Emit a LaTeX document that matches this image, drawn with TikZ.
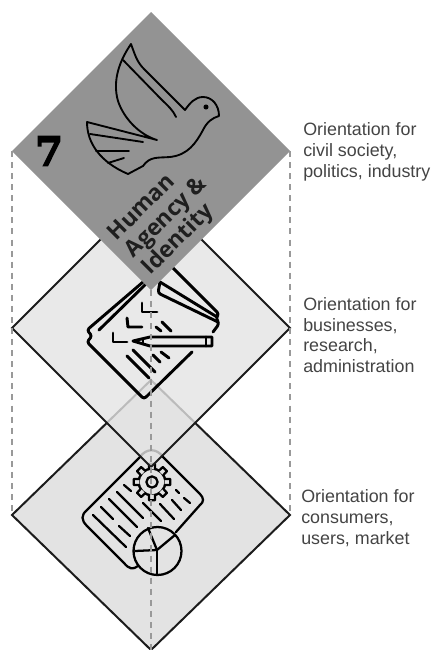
\documentclass[tikz,border=0pt]{standalone}
\usepackage{fontspec}
\setmainfont{Liberation Sans}
\newfontfamily\titlefont{Open Sans}
\newfontfamily\numfont[FakeBold=3.5]{DejaVu Serif}
\usetikzlibrary{positioning, calc, shapes.geometric}
\definecolor{topgrey}{HTML}{939393}
\definecolor{palegrey}{HTML}{E3E3E3}
\definecolor{edgegrey}{HTML}{1C1C1C}
\definecolor{dashgrey}{HTML}{999999}
\definecolor{labelgrey}{HTML}{444444}

\begin{document}
\begin{tikzpicture}[
    x=0.75pt, y=-0.75pt,
    layernode/.style={diamond, aspect=1, inner sep=0pt, outer sep=0pt, minimum width=208.5pt, minimum height=208.5pt},
    iconline/.style={line width=2.2pt, line cap=round, line join=round, black},
    thinicon/.style={line width=1.7pt, line cap=round, line join=round, black},
    doveline/.style={line width=1.4pt, line cap=round, line join=round, black},
    dashline/.style={line width=0.9pt, dashgrey, dash pattern=on 4.5pt off 3.8pt},
    orient/.style={anchor=west, align=left, labelgrey, inner sep=0pt, font=\fontsize{13.4}{15.5}\selectfont},
]
\useasboundingbox (0,0) rectangle (433,650);
\node[layernode, minimum height=202.5pt, fill=palegrey, draw=edgegrey, line width=1.5pt](consumer) at (151,515){};

\draw[thinicon] (140,457) -- (87,510) .. controls (81,515) and (81,520) .. (87,526) -- (124,563) .. controls (129,569) and (133,570) .. (138,566);
\draw[thinicon] (140,457) .. controls (146,448) and (157,448) .. (163,457) -- (200,494) .. controls (204,498) and (204,502) .. (200,505) -- (176,532);
\draw[thinicon] (124,485) -- (131,491);
\draw[thinicon] (117,492) -- (143,518);
\draw[thinicon] (109,499) -- (137,527);
\draw[thinicon] (101,507) -- (113,519);
\draw[thinicon] (119,526) -- (130,536);
\draw[thinicon] (93,515) -- (126,547);
\draw[thinicon] (143,503) -- (161,521);
\draw[thinicon] (160,504) -- (174,519);
\draw[thinicon] (172,500) -- (181,510);
\draw[thinicon] (176,490) -- (179,493);
\draw[thinicon] (184,498) -- (190,503);
\begin{scope}[shift={(152,482)}]
\draw[thinicon, fill=palegrey] (0,0) circle (10pt);
\foreach \a in {0,45,...,315}{
  \draw[thinicon, fill=palegrey] (\a-14:13) -- (\a-9:18.5) -- (\a+9:18.5) -- (\a+14:13);
}
\draw[thinicon] (0,0) circle (4.2pt);
\end{scope}
\draw[thinicon, fill=palegrey] (157.5,551) circle (18pt);
\draw[thinicon] (157,550) -- (135,551);
\draw[thinicon] (157,550) -- (157,574);
\draw[thinicon] (157,550) -- (175,535);
\draw[thinicon] (157,550) -- (148,528);

\node[layernode, fill=palegrey, fill opacity=0.8, draw=edgegrey, draw opacity=1, line width=1.5pt](business) at (151,328){};

\draw[iconline, rounded corners=2pt] (143,282) -- (87,330) -- (92,336) -- (87,342) -- (144,399) -- (192,352);
\draw[iconline] (150,280) -- (99,330);
\draw[iconline, rounded corners=2pt] (173,268) -- (219,314) -- (216,317) -- (219,324) -- (213,332);
\draw[iconline, rounded corners=2pt] (160,282) -- (158,293) -- (218,322);
\draw[iconline] (160,282) -- (217,317);
\draw[iconline] (142,303) -- (142,312) -- (157,312);
\draw[iconline] (127,318) -- (128,327) -- (142,327);
\draw[iconline] (113,333) -- (113,342) -- (127,342);
\draw[iconline] (133,341) -- (150,337) -- (212,337) -- (212,346) -- (150,346) -- cycle;
\draw[iconline] (143,339) -- (143,344);
\draw[iconline] (206,337) -- (206,346);
\draw[iconline] (162,322) -- (171,331);
\draw[iconline] (156,327) -- (161,331);
\draw[iconline] (127,356) -- (149,378);
\draw[iconline] (133,350) -- (155,372);
\draw[iconline] (153,355) -- (160,362);
\draw[iconline] (161,352) -- (169,358);

\node[layernode, fill=topgrey](agency) at (151,151){};

\draw[doveline] (131,44) .. controls (120,60) and (112,80) .. (118,101) .. controls (124,119) and (140,135) .. (157,140) -- (87,122) .. controls (87,143) and (100,162) .. (128,174) -- (143,166) .. controls (150,156) and (158,158) .. (170,157) .. controls (188,155) and (196,143) .. (203,130) .. controls (207,122) and (212,118) .. (219,116) .. controls (219,105) and (212,97) .. (203,97) .. controls (195,97) and (190,103) .. (185,110) -- (144,69) .. controls (137,62) and (135,55) .. (131,44);
\draw[doveline] (123,60) -- (160,98) .. controls (168,106) and (173,110) .. (176,117);
\draw[doveline] (90,134) -- (143,142);
\draw[doveline] (96,151) -- (129,151);
\draw[doveline] (108,163) -- (124,158);
\fill[black] (206,107) circle (1.9pt);

\draw[dashline] (agency.west) -- (consumer.west);
\draw[dashline] (agency.east) -- (consumer.east);
\draw[dashline] (agency.south) -- (consumer.south);

\node[font=\numfont\fontsize{30}{30}\selectfont\bfseries, inner sep=0pt](num) at (49,151){7};
\node[rotate=45, align=left, inner sep=0pt, font=\titlefont\fontsize{17}{18}\selectfont\bfseries, text=black!88](title) at (167,218){Human\\Agency \&\\Identity};

\node[orient](orienta) at (303,152){Orientation for\\civil society,\\politics, industry};
\node[orient](orientb) at (303,335){Orientation for\\businesses,\\research,\\administration};
\node[orient](orientc) at (301,518){Orientation for\\consumers,\\users, market};
\end{tikzpicture}
\end{document}
